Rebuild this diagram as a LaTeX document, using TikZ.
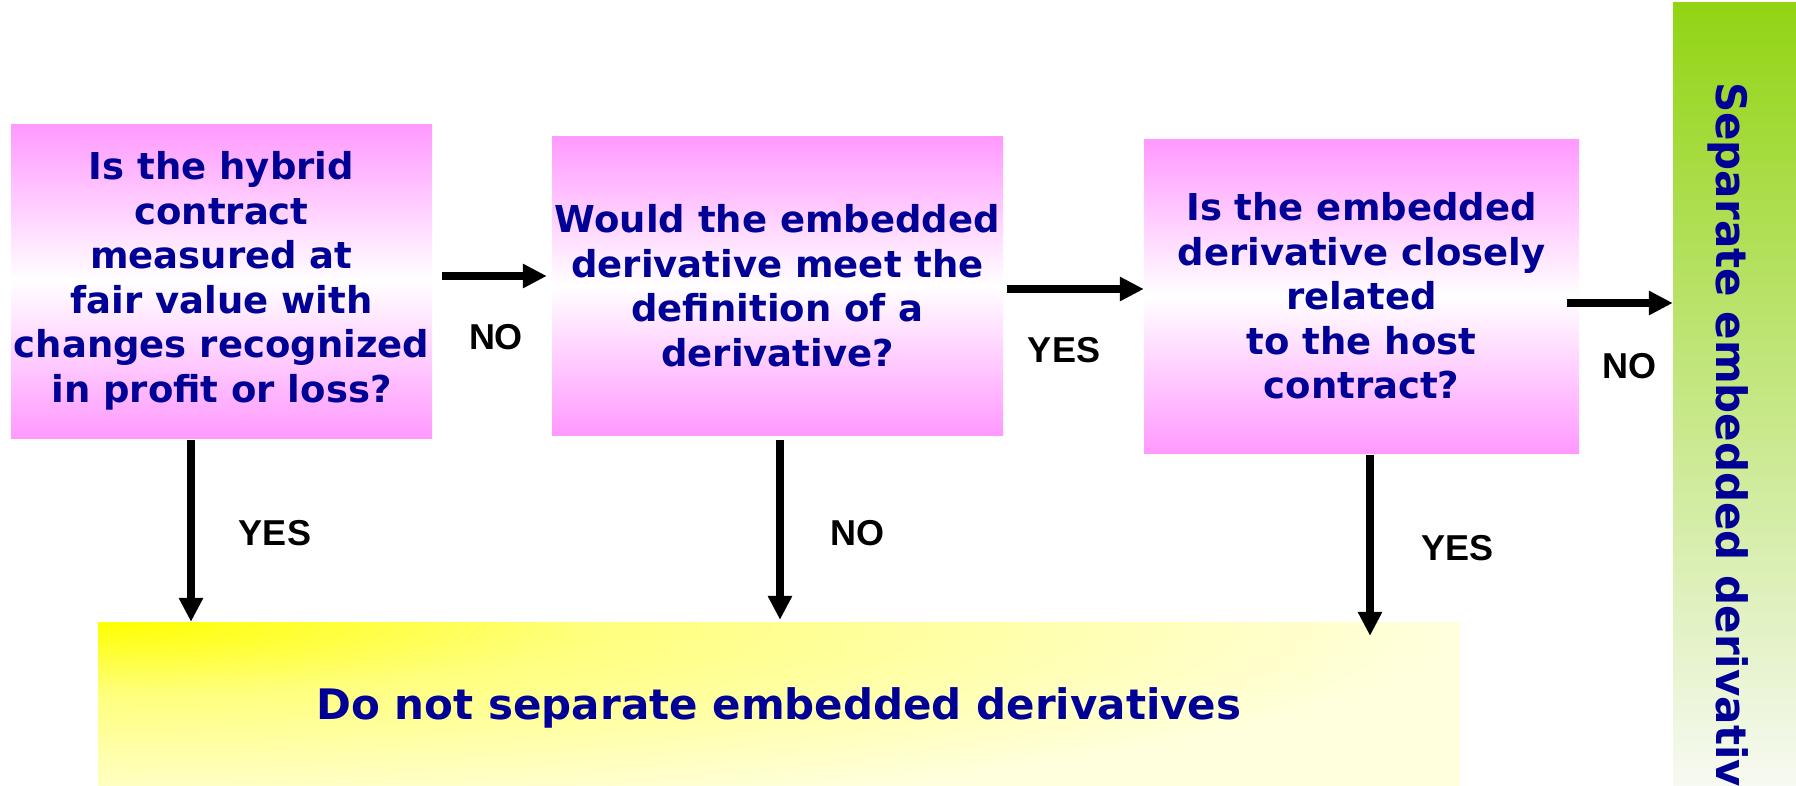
\documentclass[tikz,border=0pt]{standalone}
\usepackage{fontspec}
\setmainfont{DejaVu Sans}
\newfontfamily\labelfont{Liberation Sans}
\usetikzlibrary{arrows.meta,calc}

\definecolor{qtext}{RGB}{0,0,150}
\definecolor{qpink}{RGB}{255,153,255}
\definecolor{ylwA}{RGB}{255,255,0}
\definecolor{ylwM}{RGB}{255,255,125}
\definecolor{ylwB}{RGB}{255,255,222}
\definecolor{grnA}{RGB}{146,212,20}
\definecolor{grnB}{RGB}{248,250,244}

% yellow fill that fades out from its top left corner (path edge = 25bp)
\pgfdeclareradialshading{yelcorner}{\pgfpoint{0bp}{0bp}}{color(0bp)=(ylwA); color(9bp)=(ylwM); color(25bp)=(ylwB); color(50bp)=(ylwB)}

\begin{document}
\begin{tikzpicture}[x=1pt,y=-1pt,
  qbox/.style={rectangle, inner sep=0pt, top color=qpink, bottom color=qpink,
    middle color=white, text=qtext, align=center,
    font=\bfseries\fontsize{37}{44.5}\selectfont},
  ans/.style={inner sep=0pt, text=black, font=\labelfont\bfseries\fontsize{36}{36}\selectfont},
  flow/.style={line width=8pt, -{Triangle[length=24pt,width=23pt]}}]

\clip (0,0) rectangle (1796,785);

% outcome boxes
\node[rectangle, inner sep=0pt, minimum width=1362pt, minimum height=164pt,
  fill=ylwB,
  path picture={\shade[shading=yelcorner] (path picture bounding box.north west)
    ellipse [x radius=1360pt, y radius=200pt];},
  text=qtext, text depth=0pt, font=\bfseries\fontsize{42}{48}\selectfont]
  (yb) at (779,704) {Do not separate embedded derivatives};

\node[rectangle, inner sep=0pt, minimum width=130pt, minimum height=790pt,
  top color=grnA, bottom color=grnB] (gr) at (1738,397) {};
\node[rotate=-90, anchor=base west, inner sep=0pt, text=qtext,
  font=\bfseries\fontsize{42}{48}\selectfont] (grt) at (1716,82) {Separate embedded derivatives};

% questions
\node[qbox, minimum width=421pt, minimum height=314pt] (q1) at (221.5,281)
  {Is the hybrid\\contract\\measured at\\fair value with\\changes recognized\\in profit or loss?};
\node[qbox, minimum width=451pt, minimum height=299pt] (q2) at (777.5,285.5)
  {Would the embedded\\derivative meet the\\definition of a\\derivative?};
\node[qbox, minimum width=435pt, minimum height=314pt] (q3) at (1361.5,296)
  {Is the embedded\\derivative closely\\related\\to the host\\contract?};

% connector end points
\coordinate (a1s) at ($(q1.east)+(10,-5)$);
\coordinate (a1e) at ($(q2.west)+(-5,-9.5)$);
\coordinate (a2s) at ($(q2.east)+(4,3.5)$);
\coordinate (a2e) at ($(q3.west)+(0,-7)$);
\coordinate (a3s) at ($(q3.east)+(-12,7)$);
\coordinate (a3e) at (a3s -| gr.west);
\coordinate (v1s) at ($(q1.south)+(-30.5,2)$);
\coordinate (v1e) at (v1s |- yb.north);
\coordinate (v2s) at ($(q2.south)+(2.5,5)$);
\coordinate (v2e) at ($(v2s |- yb.north)+(0,-2)$);
\coordinate (v3s) at ($(q3.south)+(8.5,2)$);
\coordinate (v3e) at ($(v3s |- yb.north)+(0,14)$);

\draw[flow] (a1s) -- (a1e);
\draw[flow] (a2s) -- (a2e);
\draw[flow] (a3s) -- (a3e);
\draw[flow] (v1s) -- (v1e);
\draw[flow] (v2s) -- (v2e);
\draw[flow] (v3s) -- (v3e);

% answers
\node[ans] (l1) at (496,337) {NO};
\node[ans] (l2) at (1064,350) {YES};
\node[ans] (l3) at (1629,366) {NO};
\node[ans] (l4) at (275,533) {YES};
\node[ans] (l5) at (857,533) {NO};
\node[ans] (l6) at (1457,548) {YES};
\end{tikzpicture}
\end{document}
